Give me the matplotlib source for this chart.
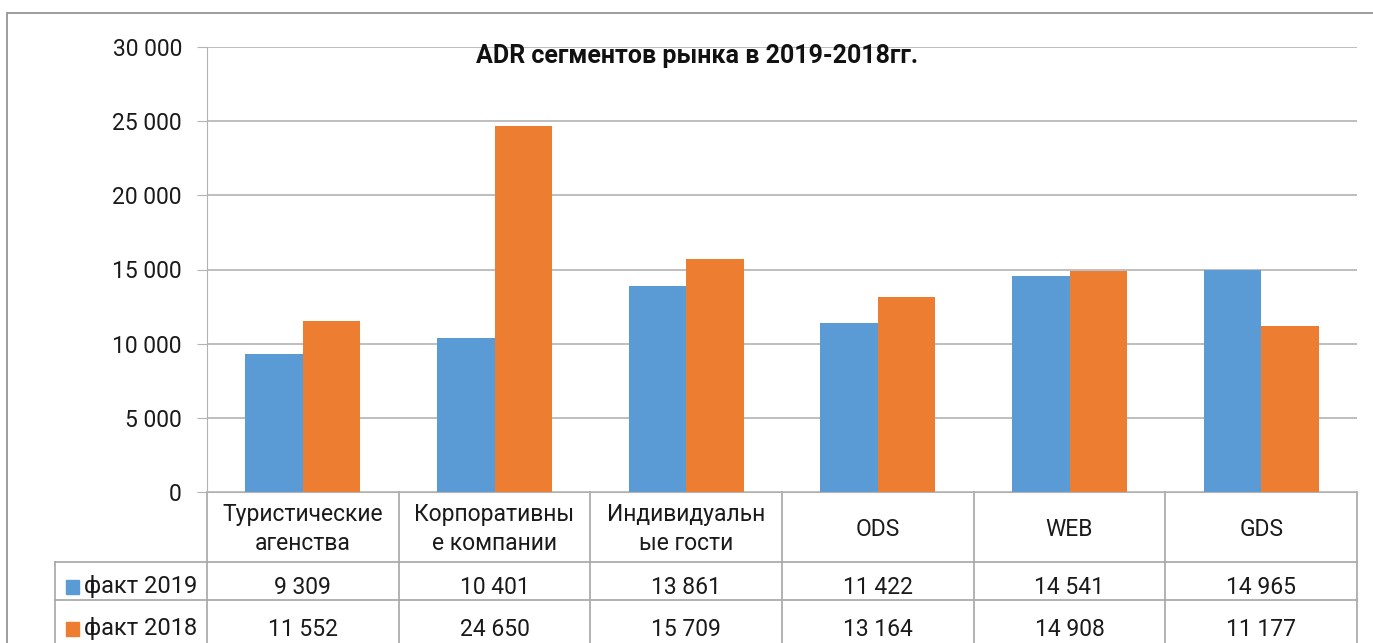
import matplotlib.pyplot as plt
import matplotlib.transforms as mtransforms
from matplotlib.patches import Rectangle
from matplotlib.ticker import FuncFormatter
import numpy as np

plt.rcParams['font.family'] = ['Roboto', 'DejaVu Sans']

categories = ["Туристические\nагенства", "Корпоративны\nе компании", "Индивидуальн\nые гости",
              "ODS", "WEB", "GDS"]
series_names = ["факт 2019", "факт 2018"]
fact_2019 = [9309, 10401, 13861, 11422, 14541, 14965]
fact_2018 = [11552, 24650, 15709, 13164, 14908, 11177]
colors = ["#5B9BD5", "#ED7D31"]

W, H = 1373, 643
fig = plt.figure(figsize=(W / 100, H / 100), dpi=100)

def fx(px):
    return px / W

def fy(py):
    return 1 - py / H

def fmt(v):
    return f"{int(v):,}".replace(",", " ")

# рамка диаграммы
fig.patches.append(Rectangle((fx(7), fy(700)), fx(1400), fy(13) - fy(700), transform=fig.transFigure,
                             fill=False, edgecolor="#8c8c8c", lw=1.2))

ax = fig.add_axes([fx(207), fy(492), fx(1357) - fx(207), fy(47) - fy(492)])
x = np.arange(len(categories))
w = 0.3
ax.bar(x - w / 2, fact_2019, w, color=colors[0])
ax.bar(x + w / 2, fact_2018, w, color=colors[1])
ax.set_xlim(-0.5, len(categories) - 0.5)
ax.set_ylim(0, 30000)
ax.set_yticks(np.arange(0, 30001, 5000))
ax.yaxis.set_major_formatter(FuncFormatter(lambda v, p: fmt(v)))
ax.set_xticks([])
ax.grid(axis="y", color="#b3b3b3", lw=1.2)
ax.set_axisbelow(True)
for s in ["top", "right"]:
    ax.spines[s].set_visible(False)
ax.spines["left"].set_color("#b3b3b3")
ax.spines["bottom"].set_color("#b3b3b3")
ax.tick_params(axis="y", length=7, color="#b3b3b3", labelsize=16.5, labelcolor="#1a1a1a", pad=11)

fig.text(fx(697), fy(56), "ADR сегментов рынка в 2019-2018гг.", ha="center", va="center",
         fontsize=18, fontweight="bold", color="#111111")

# таблица данных
tr = mtransforms.blended_transform_factory(ax.transData, fig.transFigure)
lc = "#a6a6a6"
bounds = np.arange(len(categories) + 1) - 0.5
for b in bounds:
    ax.plot([b, b], [fy(492), fy(700)], color=lc, lw=1.2, transform=tr, clip_on=False)
for row_y in [562, 600]:
    fig.add_artist(plt.Line2D([fx(55), fx(1357)], [fy(row_y), fy(row_y)], color=lc, lw=1.2,
                              transform=fig.transFigure))
fig.add_artist(plt.Line2D([fx(55), fx(55)], [fy(562), fy(700)], color=lc, lw=1.2,
                          transform=fig.transFigure))

for i, c in enumerate(categories):
    ax.text(i, fy(529), c, transform=tr, ha="center", va="center", fontsize=16.5,
            color="#1a1a1a", linespacing=1.35)
    ax.text(i, fy(587), fmt(fact_2019[i]), transform=tr, ha="center",
            va="center", fontsize=16.5, color="#1a1a1a")
    ax.text(i, fy(629), fmt(fact_2018[i]), transform=tr, ha="center",
            va="center", fontsize=16.5, color="#1a1a1a")

for name, col, yy in zip(series_names, colors, [587, 629]):
    fig.patches.append(Rectangle((fx(66), fy(yy + 7)), fx(13), fy(yy - 7) - fy(yy + 7),
                                 transform=fig.transFigure, color=col))
    fig.text(fx(84), fy(yy), name, ha="left", va="center", fontsize=17, color="#1a1a1a")

fig.savefig("out.png", dpi=100)
